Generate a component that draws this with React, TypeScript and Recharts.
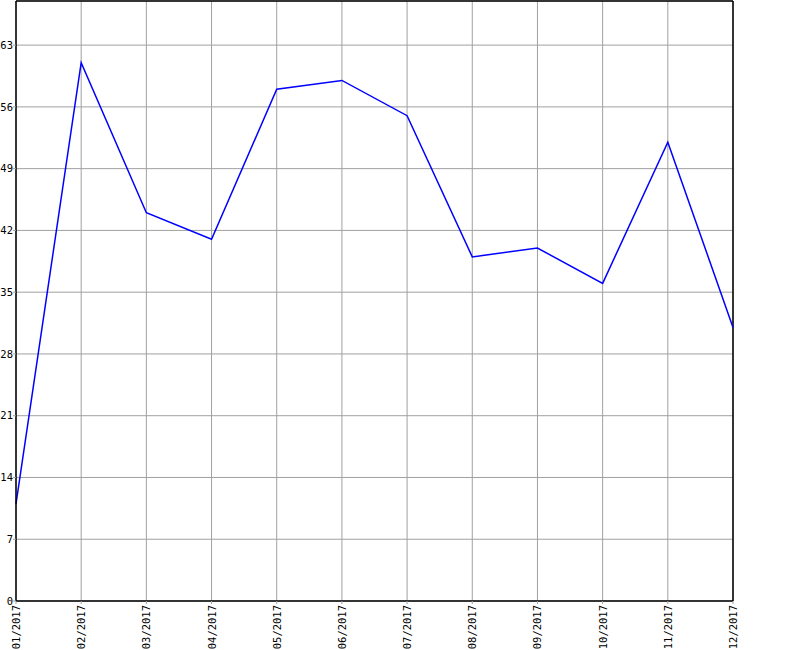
import { LineChart, Line, XAxis, YAxis, CartesianGrid, ReferenceLine } from "recharts";

const months = ["01/2017", "02/2017", "03/2017", "04/2017", "05/2017", "06/2017", "07/2017", "08/2017", "09/2017", "10/2017", "11/2017", "12/2017"];
const values = [11, 61, 44, 41, 58, 59, 55, 39, 40, 36, 52, 31];
const yTicks = [0, 7, 14, 21, 28, 35, 42, 49, 56, 63];
const yMax = 68;

const FONT = "'DejaVu Sans Mono', 'Liberation Mono', monospace";

const data = months.map((m, i) => ({ month: m, value: values[i] }));

function MonthTick({ x, y, payload }: { x?: number; y?: number; payload?: { value: string } }) {
  return (
    <text
      x={0}
      y={0}
      transform={`translate(${x! + 4},${y! - 1}) rotate(-90)`}
      textAnchor="end"
      fontFamily={FONT}
      fontSize={10.5}
      fill="#000"
    >
      {payload?.value}
    </text>
  );
}

export default function App() {
  return (
    <div style={{ position: "absolute", left: 0, top: 0, width: 800, height: 650, background: "#fff" }}>
      <LineChart width={800} height={650} data={data} margin={{ top: 1, right: 67, left: 0, bottom: 0 }}>
        <CartesianGrid stroke="#a0a0a0" strokeWidth={1} />
        <XAxis
          dataKey="month"
          interval={0}
          height={49}
          axisLine={{ stroke: "#000", strokeWidth: 1.5 }}
          tickLine={{ stroke: "#a0a0a0" }}
          tickSize={3}
          tick={<MonthTick />}
        />
        <YAxis
          type="number"
          domain={[0, yMax]}
          ticks={yTicks}
          width={16}
          axisLine={{ stroke: "#000", strokeWidth: 1.5 }}
          tickLine={{ stroke: "#a0a0a0" }}
          tickSize={3}
          tickMargin={0}
          tick={{ fontFamily: FONT, fontSize: 10.5, fill: "#000" }}
        />
        <ReferenceLine y={yMax} stroke="#000" strokeWidth={1.5} />
        <ReferenceLine x={months[months.length - 1]} stroke="#000" strokeWidth={1.5} />
        <Line
          type="linear"
          dataKey="value"
          stroke="#0000ff"
          strokeWidth={1.5}
          dot={false}
          isAnimationActive={false}
        />
      </LineChart>
    </div>
  );
}
